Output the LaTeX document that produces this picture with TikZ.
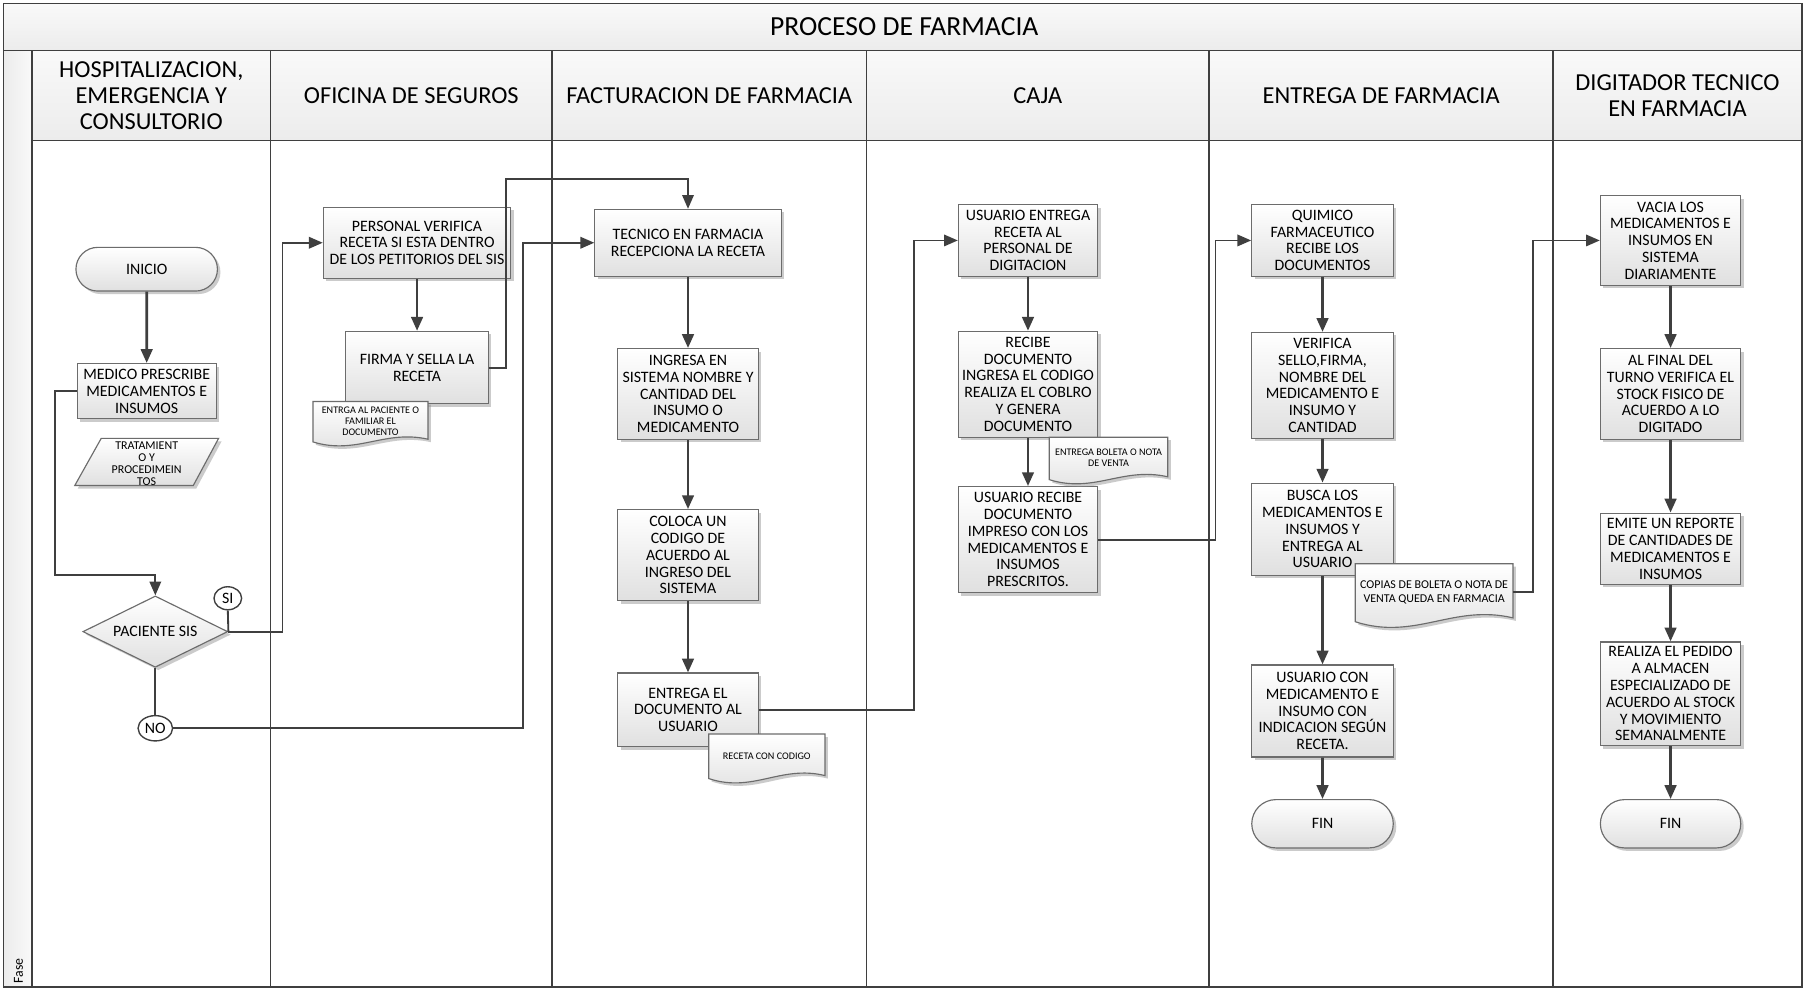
\documentclass[tikz,border=0pt]{standalone}
\usepackage{fontspec}
\setmainfont{Carlito}
\usetikzlibrary{shapes.geometric,shapes.misc,shadows,calc,arrows.meta}

\definecolor{ink}{HTML}{3F3F3F}
\definecolor{edge}{HTML}{6C6C6C}
\definecolor{shadelow}{HTML}{E0E0E0}
\definecolor{bandtop}{HTML}{F9F9F9}
\definecolor{bandlow}{HTML}{ECECEC}

\newcommand\titlefont{\fontsize{12}{14}\selectfont}
\newcommand\hdrfont{\fontsize{10.6}{11.4}\selectfont}
\newcommand\boxfont{\fontsize{6.9}{7.3}\selectfont}
\newcommand\notefont{\fontsize{4.4}{4.9}\selectfont}
\newcommand\notefontb{\fontsize{5.2}{6}\selectfont}
\newcommand\datafont{\fontsize{5.2}{5.2}\selectfont}

\tikzset{
  lane/.style={draw=ink, line width=0.7pt},
  band/.style={lane, top color=bandtop, bottom color=bandlow},
  strip/.style={lane, left color=bandlow, right color=bandtop},
  hdr/.style={align=center, font=\hdrfont, inner sep=0pt},
  sz/.style 2 args={minimum width=#1*0.5pt, minimum height=#2*0.5pt},
  shade box/.style={draw=edge, line width=0.5pt, top color=white, bottom color=shadelow,
    drop shadow={shadow xshift=1.3pt, shadow yshift=-1.3pt, fill=black!45, opacity=0.45}},
  procbox/.style={shade box, align=center, inner sep=0pt, font=\boxfont},
  termbox/.style={procbox, rounded rectangle},
  decision/.style={procbox, diamond, aspect=2},
  connector/.style={draw=ink, line width=0.6pt, fill=white, ellipse, inner sep=0pt, font=\boxfont},
  docshape/.style={shade box},
  doctext/.style={align=center, inner sep=0pt},
  flow/.style={draw=ink, line width=1.2pt, -{Triangle[length=6pt,width=5pt]}},
  link/.style={draw=ink, line width=0.8pt},
  linkarrow/.style={link, -{Triangle[length=6pt,width=5pt]}},
}

% document symbol: name, left, top, width, height, font, text
\newcommand\docnode[7]{%
  \path[docshape] ({#2},{#3}) -- ({#2+#4},{#3}) -- ({#2+#4},{#3+0.84*#5})
    .. controls ({#2+0.62*#4},{#3+0.62*#5}) and ({#2+0.38*#4},{#3+1.2*#5}) .. ({#2},{#3+0.9*#5}) -- cycle;
  \node[doctext, font=#6, minimum width={#4*0.5pt}] (#1) at ({#2+0.5*#4},{#3+0.44*#5}) {#7};
}

\begin{document}
\begin{tikzpicture}[x=0.5pt,y=-0.5pt]
\useasboundingbox (0,0) rectangle (1568,860);
\fill[white] (0,0) rectangle (1568,860);

% ---- pool frame, title and phase strip
\path[band] (3,3) rectangle (1566,44);
\node[font=\titlefont] (title) at (786,23) {PROCESO DE FARMACIA};
\path[strip] (3,44) rectangle (28,858);
\node[font=\fontsize{6}{6}\selectfont, rotate=90, anchor=west, inner sep=0pt] (fase) at (16,855) {Fase};

% ---- swimlanes
\foreach \xa/\xb in {28/235,235/480,480/753,753/1051,1051/1350,1350/1566} {
  \path[band] (\xa,44) rectangle (\xb,122);
  \draw[lane] (\xa,122) rectangle (\xb,858);
}
\draw[lane] (3,3) rectangle (1566,858);

\node[hdr] (hA) at (131.5,83) {HOSPITALIZACION,\\EMERGENCIA Y\\CONSULTORIO};
\node[hdr] (hB) at (357.5,83) {OFICINA DE SEGUROS};
\node[hdr] (hC) at (616.5,83) {FACTURACION DE FARMACIA};
\node[hdr] (hD) at (902,83) {CAJA};
\node[hdr] (hE) at (1200.5,83) {ENTREGA DE FARMACIA};
\node[hdr] (hF) at (1458,83) {DIGITADOR TECNICO\\EN FARMACIA};

% ---- hospitalizacion / emergencia / consultorio
\node[termbox, sz={123}{38}] (inicio) at (127.5,234) {INICIO};
\node[procbox, sz={121}{48}] (medico) at (127.5,340) {MEDICO PRESCRIBE\\MEDICAMENTOS E\\INSUMOS};
\path[shade box] (88,381) -- (190,381) -- (168,422) -- (65,422) -- cycle;
\node[align=center, font=\datafont, inner sep=0pt] (trat) at (127.5,403) {TRATAMIENT\\O Y\\PROCEDIMEIN\\TOS};
\node[decision, sz={126}{62}] (dec) at (135,549) {PACIENTE SIS};
\node[connector, sz={24}{20}] (si) at (198,520) {SI};
\node[connector, sz={30}{22}] (no) at (135,633) {NO};

% ---- oficina de seguros
\node[procbox, sz={163}{62}] (pers) at (362.5,211) {PERSONAL VERIFICA\\RECETA SI ESTA DENTRO\\DE LOS PETITORIOS DEL SIS};
\node[procbox, sz={124}{63}] (firma) at (362.5,319.5) {FIRMA Y SELLA LA\\RECETA};
\docnode{entrgdoc}{272}{349}{100}{39}{\notefont}{ENTRGA AL PACIENTE O\\FAMILIAR EL\\DOCUMENTO}

% ---- facturacion de farmacia
\node[procbox, sz={162}{58}] (tec) at (598,211) {TECNICO EN FARMACIA\\RECEPCIONA LA RECETA};
\node[procbox, sz={122}{79}] (ingr) at (598,342.5) {INGRESA EN\\SISTEMA NOMBRE Y\\CANTIDAD DEL\\INSUMO O\\MEDICAMENTO};
\node[procbox, sz={122}{79}] (colo) at (598,482.5) {COLOCA UN\\CODIGO DE\\ACUERDO AL\\INGRESO DEL\\SISTEMA};
\node[procbox, sz={122}{64}] (entr) at (598,617) {ENTREGA EL\\DOCUMENTO AL\\USUARIO};
\docnode{recdoc}{616}{638}{101}{43}{\notefont}{RECETA CON CODIGO}

% ---- caja
\node[procbox, sz={121}{62}] (usent) at (893.5,209) {USUARIO ENTREGA\\RECETA AL\\PERSONAL DE\\DIGITACION};
\node[procbox, sz={121}{92}] (reci) at (893.5,334) {RECIBE\\DOCUMENTO\\INGRESA EL CODIGO\\REALIZA EL COBLRO\\Y GENERA\\DOCUMENTO};
\node[procbox, sz={121}{92}] (usrec) at (893.5,469) {USUARIO RECIBE\\DOCUMENTO\\IMPRESO CON LOS\\MEDICAMENTOS E\\INSUMOS\\PRESCRITOS.};
\docnode{boldoc}{912}{380}{103}{41}{\notefont}{ENTREGA BOLETA O NOTA\\DE VENTA}

% ---- entrega de farmacia
\node[procbox, sz={123}{62}] (quim) at (1149.5,209) {QUIMICO\\FARMACEUTICO\\RECIBE LOS\\DOCUMENTOS};
\node[procbox, sz={123}{92}] (verif) at (1149.5,335) {VERIFICA\\SELLO,FIRMA,\\NOMBRE DEL\\MEDICAMENTO E\\INSUMO Y\\CANTIDAD};
\node[procbox, sz={123}{80}] (busca) at (1149.5,460) {BUSCA LOS\\MEDICAMENTOS E\\INSUMOS Y\\ENTREGA AL\\USUARIO};
\node[procbox, sz={123}{80}] (uscon) at (1149.5,618) {USUARIO CON\\MEDICAMENTO E\\INSUMO CON\\INDICACION SEGÚN\\RECETA.};
\node[termbox, sz={123}{42}] (finA) at (1149.5,716) {FIN};
\docnode{copias}{1178}{490}{137}{56}{\notefontb}{COPIAS DE BOLETA O NOTA DE\\VENTA QUEDA EN FARMACIA}

% ---- digitador tecnico en farmacia
\node[procbox, sz={122}{78}] (vacia) at (1452,209) {VACIA LOS\\MEDICAMENTOS E\\INSUMOS EN\\SISTEMA\\DIARIAMENTE};
\node[procbox, sz={122}{79}] (alfin) at (1452,342.5) {AL FINAL DEL\\TURNO VERIFICA EL\\STOCK FISICO DE\\ACUERDO A LO\\DIGITADO};
\node[procbox, sz={122}{62}] (emite) at (1452,477) {EMITE UN REPORTE\\DE CANTIDADES DE\\MEDICAMENTOS E\\INSUMOS};
\node[procbox, sz={122}{90}] (realiza) at (1452,603) {REALIZA EL PEDIDO\\A ALMACEN\\ESPECIALIZADO DE\\ACUERDO AL STOCK\\Y MOVIMIENTO\\SEMANALMENTE};
\node[termbox, sz={122}{42}] (finB) at (1452,716) {FIN};

% ---- connectors
\draw[flow] (inicio) -- (medico);
\draw[linkarrow] (medico.west) -- ++(-19,0) |- ($(dec.north)+(0,-18)$) -- (dec.north);
\draw[link] (si.south) -- (dec.east);
\draw[linkarrow] (dec.east) -- ++(47,0) |- (pers.west);
\draw[link] (dec.south) -- (no.north);
\draw[linkarrow] (no.east) -| ($(tec.west)+(-62,0)$) -- (tec.west);

\draw[flow] (pers) -- (firma);
\draw[linkarrow] (firma.east) -- ++(15,0) |- ($(tec.north)+(0,-26)$) -- (tec.north);

\draw[flow] (tec) -- (ingr);
\draw[flow] (ingr) -- (colo);
\draw[flow] (colo) -- (entr);
\draw[linkarrow] (entr.east) -| ($(usent.west)+(-38,0)$) -- (usent.west);

\draw[flow] (usent) -- (reci);
\draw[flow] (reci) -- (usrec);
\draw[linkarrow] (usrec.east) -| ($(quim.west)+(-31,0)$) -- (quim.west);

\draw[flow] (quim) -- (verif);
\draw[flow] (verif) -- (busca);
\draw[flow] (busca) -- (uscon);
\draw[flow] (uscon) -- (finA);
\draw[linkarrow] (copias.east) -| ($(vacia.west)+(-58,0)$) -- (vacia.west);

\draw[flow] (vacia) -- (alfin);
\draw[flow] (alfin) -- (emite);
\draw[flow] (emite) -- (realiza);
\draw[flow] (realiza) -- (finB);
\end{tikzpicture}
\end{document}
